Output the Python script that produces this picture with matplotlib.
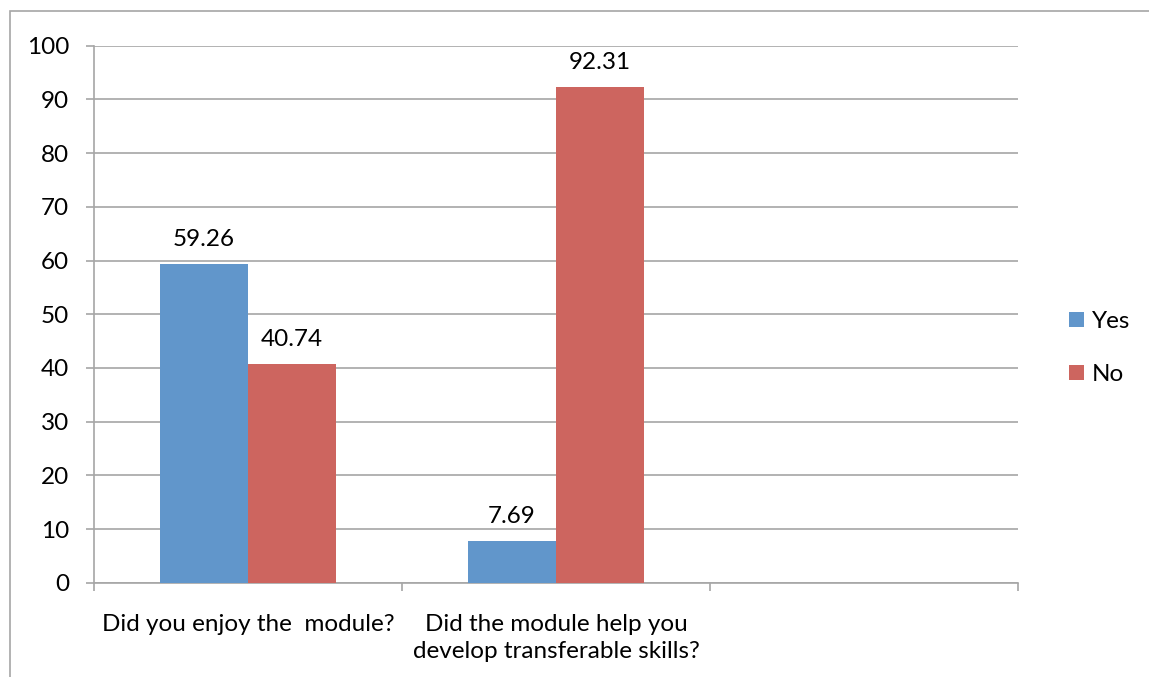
import numpy as np
import matplotlib
matplotlib.use('Agg')
import matplotlib.pyplot as plt
from matplotlib.patches import Rectangle, Patch

plt.rcParams['font.family'] = ['Lato', 'DejaVu Sans']

#-------------------------------------------- Data --------------------------------------------#

questions = ['Did you enjoy the  module?',
             'Did the module help you\ndevelop transferable skills?',
             '']
series = ['Yes', 'No']
yes_pct = [59.26, 7.69]
no_pct = [40.74, 92.31]
yticks = list(range(0, 101, 10))

blue = '#6196CB'
red = '#CD655F'
grid_grey = '#A6A6A6'
fs = 17.5

#-------------------------------------------- Plotting --------------------------------------------#

fig = plt.figure(figsize=(11.49, 6.77), dpi=100)
W, H = 1149, 677
ax = fig.add_axes([94 / W, 1 - 582.7 / H, (1018 - 94) / W, (582.7 - 45.7) / H])

# chart area border (only left and top edges are visible in the crop)
fig.add_artist(Rectangle((10 / W, -0.2), 1.5, 1.2 - 11 / H, transform=fig.transFigure,
                         fill=False, edgecolor=grid_grey, linewidth=1.2))

bar_w = 88 / 308.0
x = np.arange(len(yes_pct))
b1 = ax.bar(x - bar_w / 2, yes_pct, bar_w, color=blue, zorder=3)
b2 = ax.bar(x + bar_w / 2, no_pct, bar_w, color=red, zorder=3)

for bars, vals in [(b1, yes_pct), (b2, no_pct)]:
    for rect, v in zip(bars, vals):
        ax.annotate('%.2f' % v, (rect.get_x() + rect.get_width() / 2, v),
                    xytext=(0, 13), textcoords='offset points',
                    ha='center', va='baseline', fontsize=fs, color='black')

ax.set_xlim(-0.5, len(questions) - 0.5)
ax.set_ylim(0, 100)
ax.set_yticks(yticks)
ax.set_yticklabels([str(t) for t in yticks])
ax.yaxis.grid(True, color=grid_grey, linewidth=1.2, zorder=0)
ax.set_axisbelow(True)

# category boundaries get the tick marks, centres get the labels
ax.set_xticks(np.arange(len(questions) + 1) - 0.5)
ax.set_xticklabels([])
ax.set_xticks(np.arange(len(questions)), minor=True)
ax.set_xticklabels(questions, minor=True, fontsize=fs, linespacing=1.38)
ax.tick_params(axis='x', which='major', length=6, width=1.2, color=grid_grey, direction='out')
ax.tick_params(axis='x', which='minor', length=0, pad=22.5)
ax.tick_params(axis='y', length=6, width=1.2, color=grid_grey, labelsize=fs, pad=12)

for side in ['top', 'right']:
    ax.spines[side].set_visible(False)
for side in ['left', 'bottom']:
    ax.spines[side].set_color(grid_grey)
    ax.spines[side].set_linewidth(1.2)

handles = [Patch(facecolor=blue, label=series[0]), Patch(facecolor=red, label=series[1])]
fig.legend(handles=handles, loc='center left', bbox_to_anchor=(1057 / W, 1 - 348 / H),
           frameon=False, fontsize=fs, handlelength=0.62, handleheight=0.62,
           handletextpad=0.3, labelspacing=1.32, borderpad=0)

fig.savefig('out.png', dpi=100)
